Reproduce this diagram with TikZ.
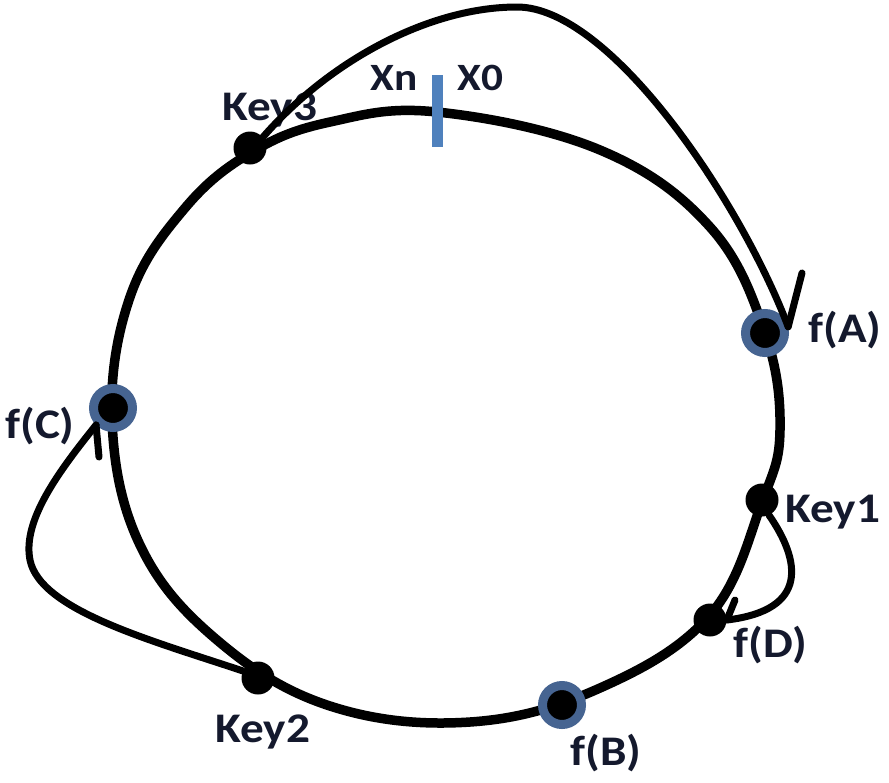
\documentclass[tikz,border=0pt]{standalone}
\usepackage{fontspec}
\setmainfont{Carlito}[BoldFeatures={FakeStretch=1.12}]
\usetikzlibrary{positioning}

\definecolor{ringblue}{RGB}{70,100,145}
\definecolor{tickblue}{RGB}{79,129,189}
\definecolor{textnavy}{RGB}{20,25,45}

\begin{document}
\begin{tikzpicture}[
  x=0.02cm, y=-0.02cm,
  ring/.style={line width=0.19cm, black},
  dot/.style={circle, fill=black, inner sep=0pt, minimum size=0.66cm},
  hashdot/.style={
    circle, fill=black, draw=ringblue,
    line width=0.18cm, inner sep=0pt,
    minimum size=0.78cm  % ring path, outer edge about 24px
  },
  lbl/.style={font=\fontsize{24}{28}\selectfont\bfseries, text=textnavy, inner sep=0pt},
  link/.style={line width=0.14cm, black, line cap=round},
  tickmark/.style={line width=0.22cm, tickblue}
]
\useasboundingbox (0,0) rectangle (889,782);

% --- Ring ---
\draw[ring] plot[smooth cycle, tension=0.65] coordinates {
  (437,112) (600,150) (710,227) (765,333) (780,430) (762,502)
  (710,615) (600,688) (470,722) (330,706) (217,640) (140,545)
  (112,420) (130,297) (185,208) (252,152) (330,122)};

% start / end of the key space
\draw[tickmark] (437,75) -- (437,147);
\node[lbl, font=\fontsize{22}{26}\selectfont\bfseries, anchor=base west] (xn) at (370,90) {Xn};
\node[lbl, font=\fontsize{22}{26}\selectfont\bfseries, anchor=base west] (x0) at (457,90) {X0};

% --- Keys and hashed positions ---
\foreach \n/\x/\y in {key1/762/500, key2/258/678, key3/250/148, fD/710/620} {
  \node[dot] (\n) at (\x,\y) {};
}
\foreach \n/\x/\y in {fA/765/333, fB/562/705, fC/113/408} {
  \node[hashdot] (\n) at (\x,\y) {};
}

% --- Labels ---
\foreach \n/\t/\x/\y in {lkey1/Key1/785/522, lkey2/Key2/215/742, lkey3/Key3/222/120,
    lfA/f(A)/808/342, lfB/f(B)/570/765, lfC/f(C)/5/438, lfD/f(D)/733/657} {
  \node[lbl, anchor=base west] (\n) at (\x,\y) {\t};
}

% --- Mappings ---
\coordinate (peak) at (517,7);
\coordinate (barbA) at (802,273);
\coordinate (barbD) at (735,600);
\coordinate (turnC) at (30,560);
\coordinate (barbC) at (99,457);

\draw[link] (key3.40) .. controls (330,60) and (430,7) .. (peak)
  .. controls (610,7) and (740,200) .. (fA.15);
\draw[link] (fA.15) -- (barbA);

\draw[link] (key1.-65) .. controls (800,560) and (810,610) .. (fD.east);
\draw[link] (fD.east) -- (barbD);

\draw[link] (key2.155) .. controls (150,640) and (40,610) .. (turnC)
  .. controls (22,520) and (60,470) .. (fC.225);
\draw[link] (fC.225) -- (barbC);

\end{tikzpicture}
\end{document}
